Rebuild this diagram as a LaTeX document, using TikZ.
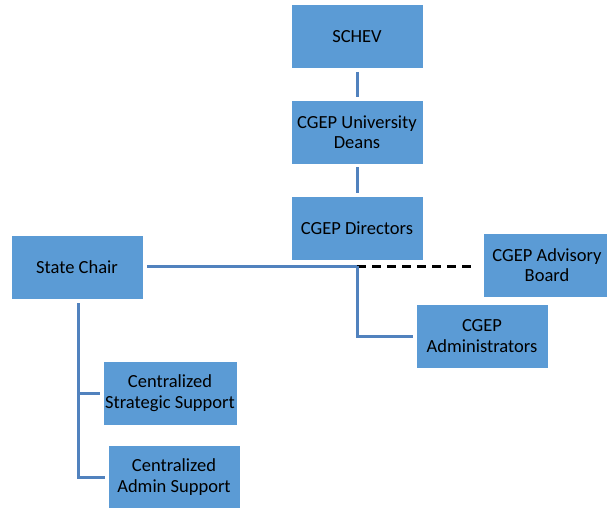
\documentclass[tikz,border=0pt]{standalone}
\usepackage{fontspec}
\setmainfont{Carlito}
\definecolor{boxblue}{HTML}{5B9BD5}
\definecolor{lineblue}{HTML}{5182BE}
\begin{document}
\begin{tikzpicture}[x=1pt,y=-1pt,
  orgbox/.style={fill=boxblue, draw=white, line width=0.6pt, minimum width=132pt, minimum height=64pt,
    align=center, inner sep=2pt, font=\fontsize{18.5}{20.5}\selectfont, text=black},
  conn/.style={draw=lineblue, line width=3pt},
  dashconn/.style={draw=black, line width=3pt, dash pattern=on 9pt off 6pt}]
\useasboundingbox (0,0) rectangle (607,508);
\node[orgbox] (schev) at (357,36.5) {SCHEV};
\node[orgbox] (deans) at (357,132) {CGEP University\\Deans};
\node[orgbox] (dir) at (357,228) {CGEP Directors};
\node[orgbox] (sc) at (77,267) {State Chair};
\node[orgbox, minimum width=128pt] (adv) at (547,265) {CGEP Advisory\\Board};
\node[orgbox] (adm) at (482,336) {CGEP\\Administrators};
\node[orgbox] (strat) at (170,393) {Centralized\\Strategic Support};
\node[orgbox] (cadm) at (174,477) {Centralized\\Admin Support};
\coordinate (j) at (357,266);
\draw[conn, shorten <=3pt, shorten >=3pt] (schev) -- (deans);
\draw[conn, shorten <=3pt, shorten >=3pt] (deans) -- (dir);
\draw[conn, shorten <=4pt] (sc.east |- j) -- (j);
\draw[dashconn, shorten >=6pt] (j) -- (adv.west |- j);
\draw[conn, shorten >=3pt] (j) |- (adm.west);
\draw[conn] ([shift={(1pt,-4pt)}]sc.south) |- ([xshift=-3pt]cadm.west);
\draw[conn] ([xshift=1pt]sc.south |- strat.west) -- ([xshift=-3pt]strat.west);
\end{tikzpicture}
\end{document}
